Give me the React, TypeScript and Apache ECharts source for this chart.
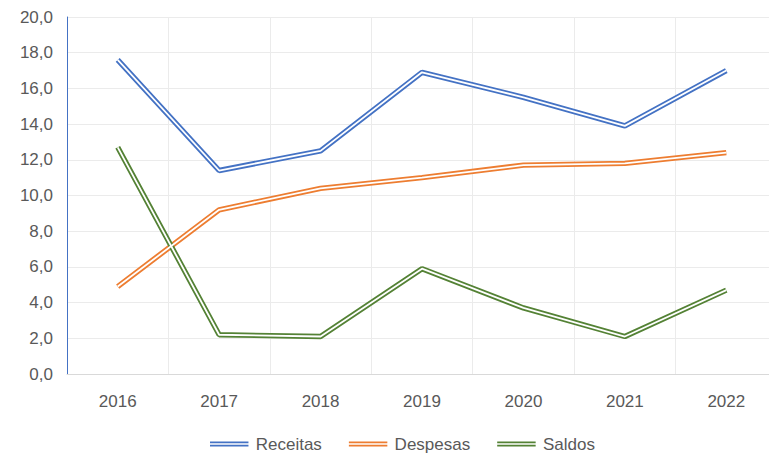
import React, { useEffect, useRef } from "react";
import * as echarts from "echarts";

const categories = ["2016", "2017", "2018", "2019", "2020", "2021", "2022"];
const receitas = [17.6, 11.4, 12.5, 16.9, 15.5, 13.9, 17.0];
const despesas = [4.9, 9.2, 10.4, 11.0, 11.7, 11.8, 12.4];
const saldos = [12.7, 2.2, 2.1, 5.9, 3.7, 2.1, 4.7];

const BLUE = "#4472C4";
const ORANGE = "#ED7D31";
const GREEN = "#548235";
const FONT = "Liberation Sans";
const ICON = "path://M0,0H40V1.8H0Z M0,3.4H40V5.2H0Z";

export default function App() {
  const ref = useRef<HTMLDivElement>(null);
  useEffect(() => {
    if (!ref.current) return;
    const chart = echarts.init(ref.current, undefined, { renderer: "svg" });
    const dbl = (name: string, data: number[], color: string) => [
      {
        name,
        type: "line",
        data,
        symbol: "none",
        lineStyle: { color, width: 5.4 },
        itemStyle: { color },
        z: 2,
      },
      {
        name: name + "_inner",
        type: "line",
        data,
        symbol: "none",
        silent: true,
        lineStyle: { color: "#ffffff", width: 1.8 },
        itemStyle: { color: "#ffffff" },
        z: 3,
      },
    ];
    chart.setOption({
      animation: false,
      grid: { left: 67, top: 17, width: 714, height: 357 },
      legend: {
        data: [
          { name: "Receitas", icon: ICON },
          { name: "Despesas", icon: ICON },
          { name: "Saldos", icon: ICON },
        ],
        left: 210,
        top: 435,
        padding: 0,
        itemWidth: 43,
        itemHeight: 5,
        itemGap: 27,
        textStyle: { color: "#595959", fontSize: 17, fontFamily: FONT, lineHeight: 18 },
      },
      xAxis: {
        type: "category",
        data: categories,
        boundaryGap: true,
        axisLine: { lineStyle: { color: "#d9d9d9", width: 1 } },
        axisTick: { show: false },
        axisLabel: { color: "#595959", fontSize: 17, fontFamily: FONT, margin: 19 },
        splitLine: { show: true, lineStyle: { color: "#ebebeb", width: 1 } },
      },
      yAxis: {
        type: "value",
        min: 0,
        max: 20,
        interval: 2,
        axisLine: { show: true, lineStyle: { color: BLUE, width: 1 } },
        axisTick: { show: false },
        axisLabel: {
          color: "#595959",
          fontSize: 17,
          fontFamily: FONT,
          margin: 14,
          formatter: (v: number) => v.toFixed(1).replace(".", ","),
        },
        splitLine: { lineStyle: { color: "#ebebeb", width: 1 } },
      },
      series: [
        ...dbl("Receitas", receitas, BLUE),
        ...dbl("Despesas", despesas, ORANGE),
        ...dbl("Saldos", saldos, GREEN),
      ],
    });
    return () => chart.dispose();
  }, []);
  return <div ref={ref} style={{ width: 777, height: 454, marginLeft: -8, marginTop: -8 }} />;
}
